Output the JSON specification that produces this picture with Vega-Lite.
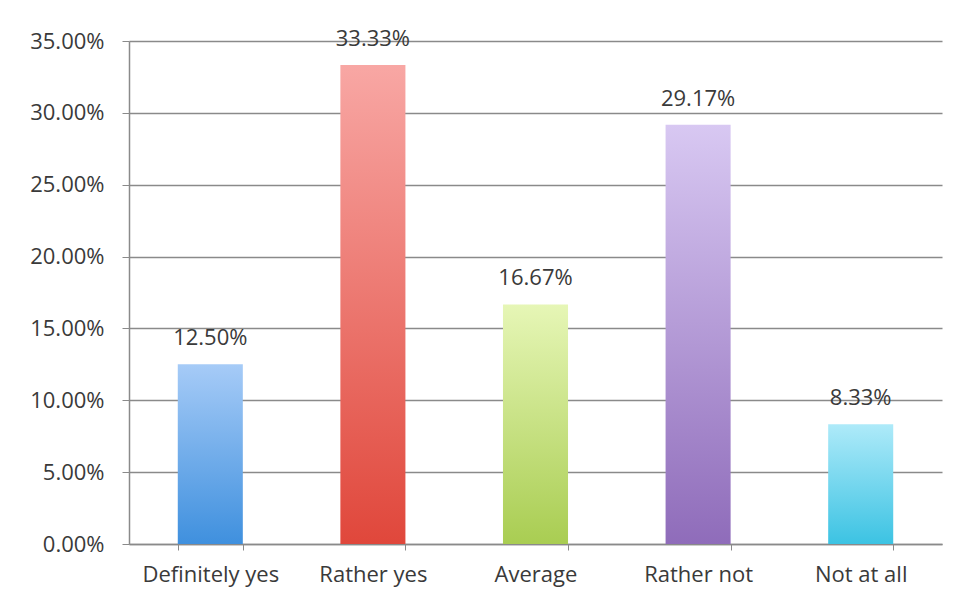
{
  "$schema": "https://vega.github.io/schema/vega-lite/v6.json",
  "width": 813,
  "height": 503,
  "autosize": {"type": "none"},
  "padding": {"left": 129, "top": 41, "right": 22, "bottom": 64},
  "background": "white",
  "config": {
    "view": {"stroke": null},
    "font": "Open Sans",
    "axis": {"labelFont": "Open Sans", "labelColor": "#3a3a3a", "labelFontSize": 22}
  },
  "data": {
    "values": [
      {"answer": "Definitely yes", "share": 0.125},
      {"answer": "Rather yes", "share": 0.3333},
      {"answer": "Average", "share": 0.1667},
      {"answer": "Rather not", "share": 0.2917},
      {"answer": "Not at all", "share": 0.0833}
    ]
  },
  "encoding": {
    "x": {
      "field": "answer",
      "type": "nominal",
      "sort": null,
      "scale": {"paddingInner": 0.6, "paddingOuter": 0.3},
      "axis": {
        "title": null,
        "labelAngle": 0,
        "bandPosition": 0,
        "tickBand": "extent",
        "domainColor": "#8a8a8a",
        "domainWidth": 1.5,
        "tickColor": "#8a8a8a",
        "tickSize": 6,
        "labelPadding": 14
      }
    },
    "y": {
      "field": "share",
      "type": "quantitative",
      "scale": {"domain": [0, 0.35], "nice": false},
      "axis": {
        "title": null,
        "format": ".2%",
        "values": [0, 0.05, 0.1, 0.15, 0.2, 0.25, 0.3, 0.35],
        "grid": true,
        "gridColor": "#8a8a8a",
        "gridWidth": 1.5,
        "domainColor": "#8a8a8a",
        "domainWidth": 1.5,
        "tickColor": "#8a8a8a",
        "tickSize": 7,
        "labelPadding": 18
      }
    }
  },
  "layer": [
    {
      "mark": {"type": "bar"},
      "encoding": {
        "fill": {
          "condition": [
            {"test": "datum.answer === 'Definitely yes'", "value": {"gradient": "linear", "x1": 0, "y1": 0, "x2": 0, "y2": 1, "stops": [{"offset": 0, "color": "#a6cbf7"}, {"offset": 1, "color": "#3f90de"}]}},
            {"test": "datum.answer === 'Rather yes'", "value": {"gradient": "linear", "x1": 0, "y1": 0, "x2": 0, "y2": 1, "stops": [{"offset": 0, "color": "#f8a7a4"}, {"offset": 1, "color": "#e0473b"}]}},
            {"test": "datum.answer === 'Average'", "value": {"gradient": "linear", "x1": 0, "y1": 0, "x2": 0, "y2": 1, "stops": [{"offset": 0, "color": "#e6f6b6"}, {"offset": 1, "color": "#a9cd52"}]}},
            {"test": "datum.answer === 'Rather not'", "value": {"gradient": "linear", "x1": 0, "y1": 0, "x2": 0, "y2": 1, "stops": [{"offset": 0, "color": "#d8c8f2"}, {"offset": 1, "color": "#8f6cba"}]}}
          ],
          "value": {"gradient": "linear", "x1": 0, "y1": 0, "x2": 0, "y2": 1, "stops": [{"offset": 0, "color": "#aeeaf9"}, {"offset": 1, "color": "#3cc3e3"}]}
        }
      }
    },
    {
      "mark": {"type": "text", "baseline": "middle", "dy": -26, "fontSize": 22, "color": "#3a3a3a", "font": "Open Sans"},
      "encoding": {
        "text": {"field": "share", "type": "quantitative", "format": ".2%"}
      }
    }
  ]
}
